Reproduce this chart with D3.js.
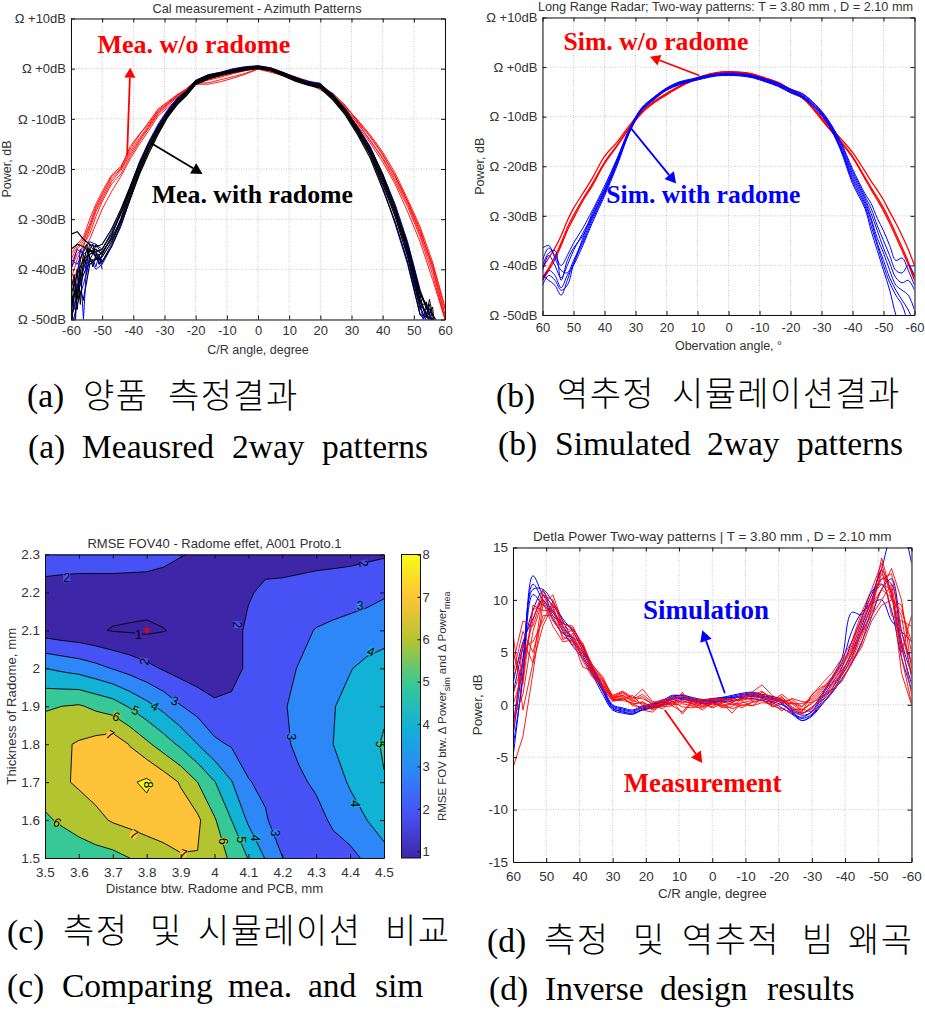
<![CDATA[<!DOCTYPE html>
<html>
<head>
<meta charset="utf-8">
<script src="https://cdn.jsdelivr.net/npm/d3@7"></script>
<style>
body {margin:0; background:#fff;}
svg {display:block;}
text {font-family:"Liberation Sans",Arial,sans-serif; fill:#333;}
.latin {font-family:"Liberation Serif",serif; font-size:33.5px; fill:#000;}
.hangul {font-family:"Noto Sans CJK KR",sans-serif; font-size:34px; font-weight:300; letter-spacing:1.4px; fill:#000;}
.note {font-family:"Liberation Serif",serif; font-weight:bold;}
</style>
</head>
<body>
<svg id="page" width="925" height="1014"></svg>
<script>
// chart (a) measured patterns
var anglesA = [-60,-58,-56,-54,-52,-50,-47,-44,-41,-38,-35,-32,-29,-26,-23,-20,-16,-12,-8,-4,0,4,8,12,16,20,24,28,32,36,40,44,48,52,56,60];
var redA1 = [-39,-36,-34.5,-31.5,-28,-25.5,-22,-20,-16.5,-13.8,-11.2,-8.5,-7,-5.5,-4.2,-2.6,-2,-1.5,-.8,-.2,.2,-.3,-1,-1.9,-2.7,-3.6,-5.2,-7.8,-11,-14.2,-18,-22.5,-27.5,-33.5,-41,-50];
var redA2 = [-42,-38,-35,-33,-29.5,-26.5,-23,-21,-17.5,-14.5,-11.8,-9,-7.4,-5.8,-4.6,-2.9,-2.8,-2.2,-1.6,-.9,0,-.5,-1.2,-2.2,-2.5,-3.9,-5.5,-7.5,-10.4,-13.6,-17.2,-21.3,-26.5,-32,-39.5,-49];
var redA3 = [-37,-35,-33.5,-30,-27,-24.5,-21.2,-19.5,-16,-13.2,-10.6,-8,-6.6,-5.2,-4,-2.4,-1.7,-1.2,-.6,.1,.4,-.1,-.8,-1.7,-2.4,-3.4,-4.9,-7.3,-10.6,-13.5,-17,-21.5,-26.5,-32.5,-39,-48];
var redA4 = [-44,-40,-36.5,-34,-31,-28,-24.5,-21.5,-18,-15,-12.3,-9.4,-7.8,-6.2,-4.8,-3.1,-3.1,-2.6,-1.9,-1.1,-.1,-.7,-1.4,-2.4,-3,-4.2,-5.8,-8.2,-11.4,-14.8,-18.6,-23,-28.5,-34.5,-42,-50];
var redA5 = [-40,-37,-35.5,-32,-28.5,-26,-22.5,-20.3,-17,-14.2,-11.5,-8.8,-7.1,-5.6,-4.4,-2.7,-2.3,-1.7,-1,-.4,.1,-.4,-1.1,-1.8,-2.9,-3.7,-5.4,-8,-10.8,-14.4,-17.7,-22,-27,-33,-40,-49.5];
var redA6 = [-38,-35.5,-34,-31,-27.5,-25,-21.5,-19.8,-15.5,-13,-10.9,-8.2,-6.8,-5.3,-4.1,-2.5,-1.9,-1.4,-.7,-.1,.3,-.2,-.9,-1.6,-2.6,-3.5,-5,-7.6,-10.2,-13.2,-16.6,-20.8,-26,-31.5,-38.5,-47.5];
var blueA1 = [-40,-36,-37,-36,-37,-38.5,-35,-30,-24,-19,-14.8,-11.3,-8.4,-6,-5,-2.5,-1.5,-1,-.3,.1,.2,.1,-.9,-2.1,-2.8,-3,-5.2,-8,-11.7,-15.7,-21.5,-28,-36.5,-47,-50,-55];
var blueA2 = [-52,-47,-43,-38,-40,-39,-35.5,-31.5,-26,-20.5,-16,-12.5,-9.5,-7.3,-4.7,-3,-1.8,-1.2,-.6,0,.1,-.2,-1.1,-2.4,-3.2,-3.7,-5,-8.6,-12.4,-17.2,-23.5,-31,-39,-49,-52,-54];
var blueA3 = [-38,-39,-36.5,-34.5,-35,-36,-32.5,-28.5,-23.5,-18.5,-14.5,-11,-8.2,-5.9,-4.4,-2.3,-1.2,-.7,0,.4,.6,.2,-.7,-1.8,-2.5,-2.9,-5.5,-8.2,-11.6,-15.5,-21,-27,-34.5,-44,-51,-53];
var blackA1 = [-45,-41,-38,-37,-36.5,-36,-33,-29,-24.5,-19.5,-15.5,-12,-9,-6.5,-4.8,-2.7,-1.6,-1,-.4,0,.1,-.1,-1,-2,-2.9,-3.4,-5.6,-8.5,-12.3,-16.5,-22,-28.5,-36,-46,-52,-55];
var blackA2 = [-50,-45,-41,-38.5,-38,-37.5,-34.5,-30.5,-25.5,-20.5,-16.2,-12.6,-9.4,-6.9,-5.1,-3,-1.9,-1.2,-.6,-.2,.3,-.3,-1.2,-2.3,-3.1,-3.7,-5.9,-8.9,-12.8,-17.2,-23,-29.5,-37.5,-47.5,-53,-56];
var blackA3 = [-33,-32.5,-34,-35,-35.5,-35,-32,-28,-23.5,-18.8,-14.8,-11.5,-8.6,-6.2,-4.5,-2.4,-1.3,-.8,-.2,.2,.5,.1,-.8,-1.7,-2.7,-3.1,-5.3,-8.1,-11.8,-15.8,-21,-27.5,-35,-44.5,-50.5,-54];
var blackA4 = [-46,-44,-40,-36,-37.5,-38.5,-35.5,-31,-26,-21,-16.8,-13,-9.7,-7.2,-5.4,-3.2,-2.1,-1.3,-.8,-.3,0,-.4,-1.4,-2.5,-3.3,-3.9,-6.2,-9.2,-13.2,-17.8,-24,-30.5,-38.5,-49,-50,-52];
var blackA5 = [-36,-35,-35.5,-36.5,-36,-37,-33.5,-28.5,-24,-19,-15,-11.7,-8.8,-6.4,-4.6,-2.5,-1.5,-.9,-.3,.3,.4,0,-.9,-1.9,-2.8,-3.2,-5.4,-8.3,-12,-16.2,-21.5,-28,-35.5,-45,-49,-53];
var blackA6 = [-48,-43,-46,-39,-38,-36.5,-34,-30,-25,-20,-15.8,-12.3,-9.2,-6.7,-5,-2.8,-1.7,-1.1,-.5,-.1,.2,-.2,-1.1,-2.1,-3,-3.5,-5.7,-8.7,-12.5,-16.8,-22.5,-29,-36.8,-46.5,-51,-54];
// the noisy tails of chart (a), read at one degree steps
var tailLeftAngles = [-60,-59,-58,-57,-56,-55,-54,-53,-52,-51,-50];
var tailLeftBlack1 = [-50,-42,-46,-38,-36,-35,-38,-37,-35,-36,-36.5];
var tailLeftBlack2 = [-47,-52,-44,-41,-37,-39,-36,-35,-38,-38,-38];
var tailLeftBlack3 = [-44,-41,-48,-42,-39,-36,-37.5,-39.5,-37,-37,-39];
var tailLeftBlack4 = [-52,-45,-40,-47,-38,-37.5,-35,-36,-36.5,-39,-37];
var tailLeftBlue1 = [-50,-55,-44,-40,-50,-39,-38,-38,-39.5,-37,-40];
var tailLeftBlue2 = [-45,-48,-42,-36,-37,-41,-37,-36.5,-36,-39,-38.5];
var tailRightAngles = [47,48,49,50,51,52,53,54,55,56,57];
var tailRightBlack1 = [-34,-36,-38.5,-41,-44,-46.5,-46,-48,-47,-50,-52];
var tailRightBlack2 = [-35,-37,-40,-43,-45,-48,-47,-46.5,-49,-47.5,-53];
var tailRightBlack3 = [-33,-35.5,-37.5,-40,-43,-45,-48,-49.5,-46,-49,-51];
var tailRightBlue1 = [-34.5,-37,-39,-42,-45.5,-47,-50,-47.5,-48.5,-51,-52];

// chart (b) simulated patterns
var anglesB = [60,58,56,54,52,50,47,44,40,36,32,28,24,20,16,12,8,4,0,-4,-8,-12,-16,-20,-24,-28,-32,-36,-40,-44,-46,-48,-50,-52,-54,-56,-58,-60];
var redB1 = [-40.5,-38.5,-36.5,-34,-31,-28.5,-25.5,-22.5,-18,-15.2,-11.8,-8.8,-6.9,-5.3,-3.9,-2.7,-1.7,-1.1,-.9,-1,-1.4,-2.2,-3.1,-4.5,-6,-8.7,-11.6,-14.3,-17.2,-21,-23,-24.8,-26.8,-29.2,-31.5,-34,-36.8,-40];
var redB2 = [-43,-41,-38.8,-36,-33,-30.5,-27,-24,-19.5,-16,-12.4,-9.3,-7.2,-5.6,-4.1,-2.9,-1.9,-1.2,-1,-1.2,-1.6,-2.4,-3.4,-4.8,-6.3,-9,-12.1,-15,-18.2,-22.5,-24.7,-26.8,-29,-31.5,-34.2,-37,-39.8,-43];
var redB3 = [-42.5,-40.5,-38.2,-35.5,-32.4,-29.9,-26.6,-23.6,-19.2,-15.8,-12.2,-9.1,-7.1,-5.5,-4,-2.8,-1.8,-1.2,-1,-1.1,-1.5,-2.3,-3.3,-4.7,-6.2,-8.9,-12,-14.8,-18,-22.2,-24.3,-26.3,-28.4,-30.9,-33.6,-36.4,-39.3,-42.5];
var blueB1 = [-39,-36.5,-38,-40,-38,-35.5,-32.5,-29,-24,-18.5,-12.5,-8.2,-6.1,-4.4,-3.2,-2.5,-1.9,-1.4,-1.3,-1.4,-1.8,-2.5,-3.3,-4.5,-5.5,-7.5,-10.5,-15,-21,-26,-28.5,-32,-35,-38,-41,-41.5,-40,-42];
var blueB2 = [-41,-38,-40,-42.5,-40,-37,-33.5,-30,-24.8,-19,-12.9,-8.4,-6.3,-4.3,-3.3,-2.6,-2,-1.5,-1.4,-1.5,-1.9,-2.6,-3.5,-4.7,-5.7,-7.8,-10.8,-15.4,-21.5,-26.5,-29.5,-33,-36.5,-39.5,-42.5,-43.5,-43,-45];
var blueB3 = [-36.5,-36,-38.5,-41,-41.5,-39,-35,-30.5,-25.3,-19.4,-13,-8.5,-6.4,-4.5,-3.4,-2.7,-2.1,-1.6,-1.5,-1.6,-2,-2.7,-3.6,-4.9,-5.9,-8,-11,-15.8,-22,-27,-30.5,-34.5,-37.5,-41,-44,-45,-46,-49];
var blueB4 = [-43,-41,-42,-44.5,-42,-40,-36,-31.5,-26,-20,-13.3,-8.7,-6.6,-4.6,-3.5,-2.8,-2.2,-1.7,-1.6,-1.7,-2.1,-2.9,-3.8,-5.1,-6.1,-8.2,-11.3,-16.2,-22.5,-27.5,-31,-35.5,-39,-42.5,-45,-47,-49,-52];
var blueB5 = [-42,-43,-44,-46,-43,-39.5,-35.5,-31,-25.6,-19.6,-13.1,-8.6,-6.2,-4.4,-3.1,-2.6,-2,-1.5,-1.4,-1.5,-1.9,-2.8,-3.7,-5,-6,-8.1,-11.1,-16,-23,-28,-32,-36,-40,-43.5,-46,-48,-52,-57];
var blueB6 = [-44,-42,-43,-45,-44,-39.8,-34.5,-29.5,-24.5,-18.8,-12.7,-8.3,-6,-4.2,-3,-2.4,-1.8,-1.4,-1.2,-1.3,-1.7,-2.4,-3.2,-4.4,-5.4,-7.6,-10.6,-14.8,-20.5,-25.5,-27.5,-30.5,-33,-36,-39,-38.5,-41,-44];
var blueB7 = [-40,-37.5,-37,-43,-39,-36.5,-34,-30.2,-25,-19.2,-13.2,-8.8,-6.5,-4.7,-3.6,-2.9,-2.3,-1.8,-1.7,-1.8,-2.2,-3,-3.9,-5.2,-6.3,-8.4,-11.5,-16.5,-23.5,-28.5,-33,-37,-41,-45,-50,-53,-58,-62];

// chart (c) RMSE over the thickness / distance grid, first row is the 1.5 mm row
var distanceTicks = [3.5,3.6,3.7,3.8,3.9,4,4.1,4.2,4.3,4.4,4.5];
var thicknessTicks = [1.5,1.6,1.7,1.8,1.9,2,2.1,2.2,2.3];
var rmseRows = [
  [5,5.25,5.5,5.6,5.7,6,6.3,6.6,6.9,6.95,6.3,5.9,4.95,3.95,3.02,2.75,2.55,2.6,2.7,3.2,3.7],
  [5.85,6.15,6.4,6.75,7.1,7.3,7.5,7.6,7.6,7.2,6.1,5,3.85,3.1,2.5,2.6,2.7,3.15,3.6,4,4.4],
  [6.5,6.85,7.15,7.4,7.65,7.85,8.2,7.6,6.9,6,5.05,4.05,3.05,2.8,2.6,2.85,3.15,3.6,4.1,4.5,4.95],
  [6.6,6.85,7.1,7.35,7.6,6.95,6.2,5.5,4.8,4,3.2,2.9,2.6,2.7,2.8,3.2,3.65,4,4.3,4.7,5.1],
  [5.9,6,6.1,5.8,5.5,4.9,4.3,3.7,3.05,2.6,2.2,2.25,2.35,2.6,2.9,3.25,3.6,3.95,4.3,4.6,4.85],
  [4,3.8,3.6,3.3,2.95,2.6,2.25,1.9,1.6,1.4,1.3,1.6,2.2,2.5,2.75,3.05,3.35,3.65,3.95,4.25,4.55],
  [1.5,1.35,1.25,1.1,.95,.9,.85,.97,1.15,1.25,1.3,1.6,2.2,2.3,2.4,2.75,3.05,3.2,3.35,3.45,3.5],
  [1.75,1.72,1.7,1.55,1.4,1.4,1.4,1.4,1.4,1.42,1.45,1.65,1.9,2.2,2.25,2.32,2.4,2.47,2.55,2.7,2.9],
  [2.35,2.32,2.3,2.45,2.6,2.55,2.5,2.3,2.05,1.9,1.75,1.7,1.65,1.62,1.6,1.65,1.7,1.72,1.75,1.82,1.9]
];
var contourLevels = [1,2,3,4,5,6,7,8];
var levelColors = ["#3e26a8","#4752f4","#2d87f7","#12b1d6","#37c897","#b3c431","#fec338","#f9fb14"];
// level, distance, thickness, rotation of the inline label
var contourLabels = [[2,3.564,2.238,0],[2,4.44,2.276,80],[1,3.776,2.088,0],[2,3.793,2.018,-80],[3,3.883,1.914,20],[4,3.824,1.9,30],[5,3.767,1.889,20],[6,3.71,1.873,20],[7,3.692,1.825,30],[7,3.763,1.563,30],[8,3.805,1.693,90],[6,3.536,1.594,30],[7,3.908,1.511,20],[6,4.026,1.544,90],[5,4.078,1.548,90],[4,4.122,1.553,90],[3,4.18,1.566,90],[3,4.226,1.82,90],[4,4.416,1.643,90],[5,4.49,1.8,90],[4,4.462,2.044,20],[3,4.43,2.164,0],[2,4.067,2.115,90]];
var bestDistance = [3.8];
var bestThickness = [2.1];
var colorbarTicks = [1,2,3,4,5,6,7,8];

// chart (d) delta power
var anglesD = [60,57,54,51,48,45,42,39,36,33,30,27,24,21,18,15,12,9,6,3,0,-3,-6,-9,-12,-15,-18,-21,-24,-27,-30,-33,-36,-39,-42,-45,-48,-51,-54,-57,-60];
var blueD1 = [-5,3,12.3,10.5,9.5,8,6.2,5,3.2,1.5,-.3,-.7,-.8,-.5,-.3,0,.5,.6,.4,.3,.3,.4,.6,.8,.9,.7,.5,.2,-.8,-1.3,-.9,.3,1.5,3,5,7.5,10,12.8,10.5,5.5,2];
var blueD2 = [-3,4,11.5,10,9,7.5,6,4.7,3,1.3,-.4,-.6,-.9,-.4,-.2,.1,.6,.7,.5,.2,.2,.5,.7,.7,.8,.6,.3,0,-.6,-1.5,-1,.1,1.2,2.8,4.5,7,9.5,12,11.5,6,3];
var blueD3 = [1,5.5,9,10.8,8.5,7.8,7.2,5.5,3.5,1.6,-.2,-.5,-.7,-.3,-.1,.3,.8,.9,.6,.4,.4,.6,.8,1,1.1,.9,.6,.4,-.5,-1,-.7,.6,2,3.5,6,8.2,10.8,11.5,9,4.5,1.5];
var blueD4 = [2,6,8.2,10,8.2,6.8,6.4,5.6,3.3,1.4,-.1,-.4,-.6,-.2,0,.4,.9,.8,.5,.3,.5,.7,.7,.9,1,.8,.7,.1,-.7,-1.2,-.6,.8,2.4,4,7,8.8,9.6,10,8,7,6];
var blueD5 = [-4,2.5,10.5,9.5,8.8,7,5.6,4.4,2.8,1,-.5,-.8,-.9,-.5,-.3,-.1,.3,.5,.3,.1,.2,.3,.4,.6,.6,.4,.2,-.3,-.9,-1.5,-1.1,0,1.1,2.4,4,6,8.4,11,12,7,4];
var blueD6 = [-2,4.5,11,11,9.8,8.2,7,5.2,3.6,1.8,0,-.3,-.5,-.1,.1,.2,.7,.9,.7,.5,.6,.7,.9,1.1,1.2,1,.8,.5,-.4,-.8,-.3,1,2.6,4.4,8.8,8.6,10.5,13,16,16.5,13.5];
var redD1 = [6.8,-.5,4,10.5,10,7.5,7,5.5,3.8,2.5,.8,1.2,.6,1.5,.3,.2,.5,1,.5,.3,.4,.5,.5,.9,1.2,1.9,.9,.3,.5,-.2,.9,2,3,4.4,6,8.8,11,13.5,10,9.5,5];
var redD2 = [1,4,8,11,9.2,7.2,6.5,5,3.4,2,.6,.9,.3,.8,0,-.1,.2,.4,.1,-.2,.1,.2,.3,.5,.9,1.3,.5,.2,.1,-.6,.3,1.2,2.3,3.6,5.2,8,10,12,12.5,7,3];
var redD3 = [-6,-3,3,9.5,10.5,7.8,7.3,5.8,3.6,2.2,.5,.5,.9,-.1,-.4,.3,-.1,-.7,.4,.2,-.2,.3,0,.2,.4,.8,.2,.8,-.3,-.8,-.4,.8,1.5,3.2,4.8,7.2,9.5,11,13,10,3.5];
var redD4 = [3,7,5,8.5,8.5,6.5,6,4.5,2.8,1.7,.3,.7,0,.3,-.3,-.2,-.1,1.2,-.2,-.3,.2,-.1,.2,-.1,.2,.5,-.1,-.4,-.7,-.9,-.2,.4,1.8,2.8,4.2,6.5,9,13,8.5,8,7.5];
var redD5 = [-1.5,1,7,10,8,6.8,7.1,5.2,3,2.3,.9,1.3,.7,.6,.1,.5,.6,.2,.6,.5,.5,.4,.6,.4,.7,1,.4,1,.2,-.2,.7,1.6,2.6,4,5.6,8.4,10.5,11.5,11,4.5,.2];
var redD6 = [5,2,9.5,9,9,7.2,5.7,5.9,3.3,1.5,.4,.4,.2,-.5,-.7,.1,.3,-.2,-.3,.1,-.3,.1,-.8,.3,-.1,.2,.1,-.6,.3,-.5,.1,1,2.1,3.3,4.5,7,8.5,10,11.5,6,1];
var redD7 = [2.5,5.5,6,8,9.8,7.5,6.3,4.8,3.7,2.7,.7,1.1,.5,1,.2,.4,.7,.7,.2,-.1,.3,-.3,-.2,.6,.5,1.2,.7,.4,-.5,-.4,-.7,0,1.3,2.5,3.9,5.8,9.3,14,10.5,5,8.5];
var redD8 = [-3,6,4,7.5,9.5,6.2,6.8,4.2,2.6,1.9,.5,.6,.1,.2,-.2,.3,0,.1,-.1,.4,0,.1,-.4,0,-.1,.6,-.2,.1,.6,.3,.2,.7,1.4,2.2,4,5.5,8,9.5,10,9,6];
var redD9 = [4,8,7.5,10.5,8.8,7.7,7.5,5.5,3.5,2.4,.6,.8,-.1,-.2,0,-.4,.4,-.9,.3,.2,.6,.6,.2,.7,1,.9,.3,.5,.1,.1,.5,1.4,2.5,3.8,5.4,7.8,9.8,12.5,11,3,0];
var redD10 = [0,3,9,9.8,7.5,6,6.2,3.6,3.2,1.6,.7,.9,.4,.1,-.5,0,.1,.3,.1,-.5,.2,-.2,.1,-.3,.3,.4,0,.7,-.2,-.7,1,1.7,1.9,3,5,6.8,8.8,11,10.2,8.5,2.5];

var angleTicksUp = [-60,-50,-40,-30,-20,-10,0,10,20,30,40,50,60];
var angleTicksDown = [60,50,40,30,20,10,0,-10,-20,-30,-40,-50,-60];
var powerTicks = [10,0,-10,-20,-30,-40,-50];
var deltaTicks = [15,10,5,0,-5,-10,-15];

var svg = d3.select("#page");
var defs = svg.append("defs");
var clipCount = 0;

var drawGrid = function(box, xScale, yScale, xTicks, yTicks)
{
    var g = svg.append("g");
    g.selectAll(".gx").data(xTicks).enter().append("line")
        .attr("x1",xScale).attr("x2",xScale)
        .attr("y1",box.top).attr("y2",box.bottom)
        .attr("stroke","#c8c8c8").attr("stroke-dasharray","1,1.5");
    g.selectAll(".gy").data(yTicks).enter().append("line")
        .attr("y1",yScale).attr("y2",yScale)
        .attr("x1",box.left).attr("x2",box.right)
        .attr("stroke","#c8c8c8").attr("stroke-dasharray","1,1.5");
}

// frame and inward ticks on all four sides
var drawAxes = function(box, xScale, yScale, xTicks, yTicks, yFormat, tickSize, xGap)
{
    var plain = function(d) {return d;};
    var bottom = d3.axisBottom(xScale).tickValues(xTicks).tickFormat(plain).tickSizeInner(-4).tickSizeOuter(0);
    var left = d3.axisLeft(yScale).tickValues(yTicks).tickFormat(yFormat).tickSizeInner(-4).tickSizeOuter(0);
    var top = d3.axisTop(xScale).tickValues(xTicks).tickFormat("").tickSizeInner(-4).tickSizeOuter(0);
    var right = d3.axisRight(yScale).tickValues(yTicks).tickFormat("").tickSizeInner(-4).tickSizeOuter(0);
    svg.append("g").attr("transform","translate(0,"+box.bottom+")").call(bottom)
        .selectAll("text").attr("y",xGap).attr("dy","0.71em").style("font-size",tickSize+"px");
    svg.append("g").attr("transform","translate("+box.left+",0)").call(left)
        .selectAll("text").attr("x",-5).style("font-size",tickSize+"px");
    svg.append("g").attr("transform","translate(0,"+box.top+")").call(top);
    svg.append("g").attr("transform","translate("+box.right+",0)").call(right);
    svg.selectAll(".domain").attr("stroke","#111");
    svg.selectAll(".tick line").attr("stroke","#111");
}

var drawTexts = function(box, t)
{
    var mid = (box.left+box.right)/2;
    svg.append("text").attr("x",mid+t.titleShift).attr("y",t.titleY).attr("text-anchor","middle")
        .style("font-size",t.titleSize+"px").text(t.title);
    svg.append("text").attr("x",mid).attr("y",t.xLabelY).attr("text-anchor","middle")
        .style("font-size",t.labelSize+"px").text(t.xLabel);
    svg.append("text").attr("transform","translate("+t.yLabelX+","+((box.top+box.bottom)/2)+") rotate(-90)")
        .attr("text-anchor","middle").style("font-size",t.labelSize+"px").text(t.yLabel);
}

var drawLines = function(box, families, curve)
{
    clipCount = clipCount+1;
    var id = "clip"+clipCount;
    defs.append("clipPath").attr("id",id).append("rect")
        .attr("x",box.left).attr("y",box.top)
        .attr("width",box.right-box.left).attr("height",box.bottom-box.top);
    var g = svg.append("g").attr("clip-path","url(#"+id+")").attr("fill","none");
    families.forEach(function(family)
    {
        var line = d3.line()
            .x(function(v,i){return family.x(family.angles[i]);})
            .y(function(v){return family.y(v);})
            .curve(curve);
        g.append("g").attr("stroke",family.color).attr("stroke-width",family.width)
            .selectAll("path").data(family.series).enter().append("path").attr("d",line);
    });
}

var drawArrow = function(xScale, yScale, from, to, color, size, width)
{
    var x1 = xScale(from[0]), y1 = yScale(from[1]);
    var x2 = xScale(to[0]), y2 = yScale(to[1]);
    var a = Math.atan2(y2-y1,x2-x1);
    var bx = x2-size*Math.cos(a), by = y2-size*Math.sin(a);
    var w = size*0.55;
    svg.append("line").attr("x1",x1).attr("y1",y1).attr("x2",bx).attr("y2",by)
        .attr("stroke",color).attr("stroke-width",width);
    svg.append("path")
        .attr("d","M"+x2+","+y2+"L"+(bx-w*Math.sin(a))+","+(by+w*Math.cos(a))+"L"+(bx+w*Math.sin(a))+","+(by-w*Math.cos(a))+"Z")
        .attr("fill",color);
}

var drawNote = function(xScale, yScale, at, text, color, size)
{
    svg.append("text").attr("class","note").attr("x",xScale(at[0])).attr("y",yScale(at[1]))
        .attr("text-anchor","middle").style("fill",color).style("font-size",size+"px").text(text);
}

var omegaFormat = function(d) {return "\u03a9 "+(d>=0 ? "+" : "")+d+"dB";};
var plainTick = function(d) {return d;};

// chart (a)
var boxA = {left:71, right:445, top:18.5, bottom:319.5};
var xA = d3.scaleLinear().domain([-60,60]).range([boxA.left,boxA.right]);
var yA = d3.scaleLinear().domain([10,-50]).range([boxA.top,boxA.bottom]);
drawGrid(boxA,xA,yA,angleTicksUp,powerTicks);
drawLines(boxA,[
    {x:xA,y:yA,angles:anglesA,color:"#ff0000",width:0.9,series:[redA1,redA2,redA3,redA4,redA5,redA6]},
    {x:xA,y:yA,angles:anglesA,color:"#0000ff",width:1,series:[blueA1,blueA2,blueA3]},
    {x:xA,y:yA,angles:anglesA,color:"#000000",width:1.2,series:[blackA1,blackA2,blackA3,blackA4,blackA5,blackA6]},
    {x:xA,y:yA,angles:tailLeftAngles,color:"#0000ff",width:1,series:[tailLeftBlue1,tailLeftBlue2]},
    {x:xA,y:yA,angles:tailLeftAngles,color:"#000000",width:1,series:[tailLeftBlack1,tailLeftBlack2,tailLeftBlack3,tailLeftBlack4]},
    {x:xA,y:yA,angles:tailRightAngles,color:"#0000ff",width:1,series:[tailRightBlue1]},
    {x:xA,y:yA,angles:tailRightAngles,color:"#000000",width:1,series:[tailRightBlack1,tailRightBlack2,tailRightBlack3]}
],d3.curveLinear);
drawAxes(boxA,xA,yA,angleTicksUp,powerTicks,omegaFormat,13,6);
drawTexts(boxA,{title:"Cal measurement - Azimuth Patterns",titleSize:12.8,titleY:12.5,titleShift:-1,xLabel:"C/R angle, degree",xLabelY:354,yLabel:"Power, dB",yLabelX:11,labelSize:12.5});
drawArrow(xA,yA,[-42,-17.3],[-41,0.2],"#ff0000",10,1.8);
drawArrow(xA,yA,[-34.1,-14.9],[-17.8,-21],"#000000",11,1.8);
drawNote(xA,yA,[-20.6,3.07],"Mea. w/o radome","#ff0000",26);
drawNote(xA,yA,[-1.8,-26.7],"Mea. with radome","#000000",25.8);

// chart (b)
var boxB = {left:542.5, right:914.5, top:17.5, bottom:315};
var xB = d3.scaleLinear().domain([60,-60]).range([boxB.left,boxB.right]);
var yB = d3.scaleLinear().domain([10,-50]).range([boxB.top,boxB.bottom]);
drawGrid(boxB,xB,yB,angleTicksDown,powerTicks);
drawLines(boxB,[
    {x:xB,y:yB,angles:anglesB,color:"#ff0000",width:1.3,series:[redB1,redB2,redB3]},
    {x:xB,y:yB,angles:anglesB,color:"#0000ff",width:1,series:[blueB1,blueB2,blueB3,blueB4,blueB5,blueB6,blueB7]}
],d3.curveCatmullRom);
drawAxes(boxB,xB,yB,angleTicksDown,powerTicks,omegaFormat,13,8);
drawTexts(boxB,{title:"Long Range Radar; Two-way patterns: T = 3.80 mm , D = 2.10 mm",titleSize:12.7,titleY:11,titleShift:-3,xLabel:"Obervation angle,  \u00b0",xLabelY:350,yLabel:"Power, dB",yLabelX:484,labelSize:12.5});
drawArrow(xB,yB,[9.4,-1.7],[25.3,2.1],"#ff0000",10,1.8);
drawArrow(xB,yB,[31.5,-12.3],[16.9,-23.5],"#0000ff",11,1.8);
drawNote(xB,yB,[23.4,3.47],"Sim. w/o radome","#ff0000",25.7);
drawNote(xB,yB,[8.1,-27.5],"Sim. with radome","#0000ff",25.6);

// chart (c)
var boxC = {left:45, right:384, top:554.5, bottom:858};
var xC = d3.scaleLinear().domain([3.5,4.5]).range([boxC.left,boxC.right]);
var yC = d3.scaleLinear().domain([1.5,2.3]).range([boxC.bottom,boxC.top]);
clipCount = clipCount+1;
defs.append("clipPath").attr("id","clip"+clipCount).append("rect")
    .attr("x",boxC.left).attr("y",boxC.top)
    .attr("width",boxC.right-boxC.left).attr("height",boxC.bottom-boxC.top);
var mapG = svg.append("g").attr("clip-path","url(#clip"+clipCount+")");
mapG.append("rect").attr("x",boxC.left).attr("y",boxC.top)
    .attr("width",boxC.right-boxC.left).attr("height",boxC.bottom-boxC.top)
    .attr("fill","#3a23a0");
var gridCols = rmseRows[0].length;
var gridRows = rmseRows.length;
var contourData = d3.contours().size([gridCols,gridRows])
    .thresholds(contourLevels)(d3.merge(rmseRows));
var gridX = d3.scaleLinear().domain([0.5,gridCols-0.5]).range([xC(3.5),xC(4.5)]);
var gridY = d3.scaleLinear().domain([0.5,gridRows-0.5]).range([yC(1.5),yC(2.3)]);
var contourPath = d3.geoPath(d3.geoTransform({
    point:function(x,y){this.stream.point(gridX(x),gridY(y));}
}));
mapG.selectAll(".band").data(contourData).enter().append("path").attr("class","band")
    .attr("d",contourPath)
    .attr("fill",function(d,i){return levelColors[i];})
    .attr("stroke","#000").attr("stroke-width",0.9);
// each inline label sits on a small patch of its band colour that breaks the line
var labelG = mapG.selectAll(".lab").data(contourLabels).enter().append("g").attr("class","lab")
    .attr("transform",function(d){return "translate("+xC(d[1])+","+yC(d[2])+") rotate("+d[3]+")";});
labelG.append("rect").attr("x",-3.5).attr("y",-4.5).attr("width",7).attr("height",9)
    .attr("fill",function(d){return levelColors[d[0]-1];});
labelG.append("text").attr("text-anchor","middle").attr("dy","0.35em")
    .style("font-size","12.5px").style("fill","#000")
    .text(function(d){return d[0];});
mapG.selectAll(".star").data(bestDistance).enter().append("path").attr("class","star")
    .attr("transform",function(d,i){return "translate("+xC(d)+","+yC(bestThickness[i])+")";})
    .attr("d",d3.symbol().type(d3.symbolAsterisk).size(40))
    .attr("fill","none").attr("stroke","#ff0000").attr("stroke-width",1);
drawAxes(boxC,xC,yC,distanceTicks,thicknessTicks,plainTick,13.5,9);
drawTexts(boxC,{title:"RMSE FOV40 - Radome effet, A001 Proto.1",titleSize:13,titleY:547.5,titleShift:0,xLabel:"Distance btw. Radome and PCB, mm",xLabelY:893,yLabel:"Thickness of Radome, mm",yLabelX:16,labelSize:13.2});

// colorbar
var boxBar = {left:401.5, right:420.5, top:554.5, bottom:858};
var yBar = d3.scaleLinear().domain([0.84,8]).range([boxBar.bottom,boxBar.top]);
var barGradient = defs.append("linearGradient").attr("id","barFill")
    .attr("x1",0).attr("x2",0).attr("y1",1).attr("y2",0);
barGradient.selectAll("stop").data(levelColors).enter().append("stop")
    .attr("offset",function(d,i){return i/(levelColors.length-1);})
    .attr("stop-color",function(d){return d;});
svg.append("rect").attr("x",boxBar.left).attr("y",boxBar.top)
    .attr("width",boxBar.right-boxBar.left).attr("height",boxBar.bottom-boxBar.top)
    .attr("fill","url(#barFill)").attr("stroke","#111");
svg.append("g").attr("transform","translate("+boxBar.right+",0)")
    .call(d3.axisRight(yBar).tickValues(colorbarTicks).tickFormat(plainTick).tickSizeInner(-3).tickSizeOuter(0))
    .call(function(g){g.select(".domain").remove();})
    .selectAll("text").attr("x",2).style("font-size","13px");
var barLabel = svg.append("text")
    .attr("transform","translate(446,"+((boxBar.top+boxBar.bottom)/2)+") rotate(-90)")
    .attr("text-anchor","middle").style("font-size","11.5px");
barLabel.append("tspan").text("RMSE FOV btw. \u0394 Power");
barLabel.append("tspan").attr("dy",4).style("font-size","9px").text("sim");
barLabel.append("tspan").attr("dy",-4).text(" and \u0394 Power");
barLabel.append("tspan").attr("dy",4).style("font-size","9px").text("mea");

// chart (d)
var boxD = {left:513, right:911.5, top:547.5, bottom:862};
var xD = d3.scaleLinear().domain([60,-60]).range([boxD.left,boxD.right]);
var yD = d3.scaleLinear().domain([15,-15]).range([boxD.top,boxD.bottom]);
drawGrid(boxD,xD,yD,angleTicksDown,deltaTicks);
drawLines(boxD,[
    {x:xD,y:yD,angles:anglesD,color:"#0000ff",width:1,series:[blueD1,blueD2,blueD3,blueD4,blueD5,blueD6]}
],d3.curveCatmullRom);
drawLines(boxD,[
    {x:xD,y:yD,angles:anglesD,color:"#ff0000",width:0.9,series:[redD1,redD2,redD3,redD4,redD5,redD6,redD7,redD8,redD9,redD10]}
],d3.curveLinear);
drawAxes(boxD,xD,yD,angleTicksDown,deltaTicks,plainTick,13.5,9);
drawTexts(boxD,{title:"Detla Power Two-way patterns | T = 3.80 mm , D = 2.10 mm",titleSize:13.5,titleY:540.5,titleShift:0,xLabel:"C/R angle, degree",xLabelY:897.5,yLabel:"Power, dB",yLabelX:482,labelSize:13.4});
drawArrow(xD,yD,[-3.8,1.1],[3,7.1],"#0000ff",11,1.8);
drawArrow(xD,yD,[14.3,-.5],[3,-5.55],"#ff0000",11,1.8);
drawNote(xD,yD,[1.9,8.2],"Simulation","#0000ff",27);
drawNote(xD,yD,[2.9,-8.35],"Measurement","#ff0000",26.9);

// captions, one entry per word group: text, left edge, baseline, font class
var captionWords = [
    ["(a)",27,407,"latin"],["양품",83,408,"hangul"],["측정결과",168,408,"hangul"],
    ["(a)",28,458,"latin"],["Meausred",82,458,"latin"],["2way",232,458,"latin"],["patterns",322,458,"latin"],
    ["(b)",496,407,"latin"],["역추정",557,406,"hangul"],["시뮬레이션결과",672,406,"hangul"],
    ["(b)",498,455,"latin"],["Simulated",555,455,"latin"],["2way",707,455,"latin"],["patterns",797,455,"latin"],
    ["(c)",7,943,"latin"],["측정",63,943,"hangul"],["및",150,943,"hangul"],["시뮬레이션",198,943,"hangul"],["비교",385,943,"hangul"],
    ["(c)",7,997,"latin"],["Comparing",62,997,"latin"],["mea.",228,997,"latin"],["and",308,997,"latin"],["sim",375,997,"latin"],
    ["(d)",487,952,"latin"],["측정",544,952,"hangul"],["및",633,952,"hangul"],["역추적",682,952,"hangul"],["빔",802,952,"hangul"],["왜곡",848,952,"hangul"],
    ["(d)",489,1000,"latin"],["Inverse",545,1000,"latin"],["design",660,1000,"latin"],["results",767,1000,"latin"]
];
svg.selectAll(".word").data(captionWords).enter().append("text")
    .attr("class",function(d){return "word "+d[3];})
    .attr("x",function(d){return d[1];}).attr("y",function(d){return d[2];})
    .text(function(d){return d[0];});
</script>
</body>
</html>
]]>
